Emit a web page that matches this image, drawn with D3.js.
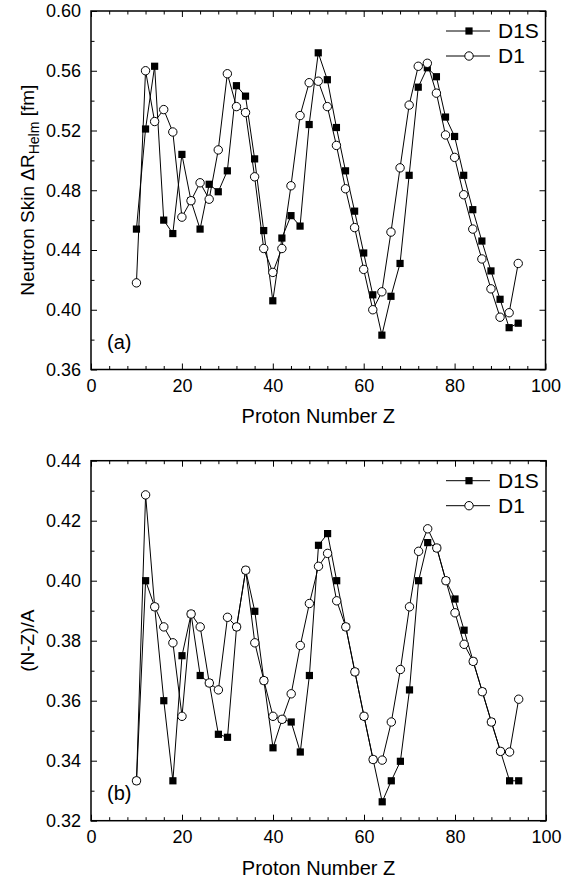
<!DOCTYPE html>
<html>
<head>
<meta charset="utf-8">
<script src="https://cdn.jsdelivr.net/npm/d3@7"></script>
<style>
  html, body { margin: 0; padding: 0; background: #fff; }
  svg { display: block; }
  text { font-family: "Liberation Sans", Arial, Helvetica, sans-serif; fill: #000; }
</style>
</head>
<body>
<svg id="chart" width="572" height="882"></svg>
<script>
// ---------------- data ----------------
const protonZ = [10,12,14,16,18,20,22,24,26,28,30,32,34,36,38,40,42,44,46,48,50,52,54,56,58,60,62,64,66,68,70,72,74,76,78,80,82,84,86,88,90,92,94];

const skinD1S = [0.454,0.521,0.563,0.460,0.451,0.504,0.473,0.454,0.484,0.479,0.493,0.550,0.543,0.501,0.453,0.406,0.448,0.463,0.456,0.524,0.572,0.554,0.522,0.493,0.466,0.438,0.410,0.383,0.409,0.431,0.490,0.549,0.562,0.556,0.529,0.516,0.490,0.467,0.446,0.426,0.407,0.388,0.391];
const skinD1  = [0.418,0.560,0.526,0.534,0.519,0.462,0.473,0.485,0.474,0.507,0.558,0.536,0.532,0.489,0.441,0.425,0.441,0.483,0.530,0.552,0.553,0.536,0.510,0.481,0.455,0.427,0.400,0.412,0.452,0.495,0.537,0.563,0.565,0.545,0.517,0.502,0.477,0.454,0.434,0.414,0.395,0.398,0.431];

const asymD1S = [0.3333,0.4000,0.3913,0.3600,0.3333,0.3750,0.3889,0.3684,0.3659,0.3488,0.3478,0.3846,0.4035,0.3898,0.3667,0.3443,0.3538,0.3529,0.3429,0.3684,0.4118,0.4157,0.4000,0.3846,0.3696,0.3548,0.3404,0.3263,0.3333,0.3398,0.3636,0.4000,0.4127,0.4109,0.4000,0.3939,0.3835,0.3731,0.3630,0.3529,0.3431,0.3333,0.3333];
const asymD1  = [0.3333,0.4286,0.3913,0.3846,0.3793,0.3548,0.3889,0.3846,0.3659,0.3636,0.3878,0.3846,0.4035,0.3793,0.3667,0.3548,0.3538,0.3623,0.3784,0.3924,0.4048,0.4091,0.3933,0.3846,0.3696,0.3548,0.3404,0.3402,0.3529,0.3704,0.3913,0.4098,0.4173,0.4109,0.4000,0.3893,0.3788,0.3731,0.3630,0.3529,0.3431,0.3429,0.3605];

const seriesNames = ["D1S", "D1"];
const xTicks = [0,20,40,60,80,100];
const xMinorTicks = [4,8,12,16,24,28,32,36,44,48,52,56,64,68,72,76,84,88,92,96];
const topYTicks = [0.36,0.40,0.44,0.48,0.52,0.56,0.60];
const topYMinor = [0.38,0.42,0.46,0.50,0.54,0.58];
const botYTicks = [0.32,0.34,0.36,0.38,0.40,0.42,0.44];
const botYMinor = [0.33,0.35,0.37,0.39,0.41,0.43];

// ---------------- drawing ----------------
const svg = d3.select("#chart");
const fmt2 = d3.format(".2f");

function panel(cfg) {
  const x = d3.scaleLinear().domain([0, 100]).range([cfg.left, cfg.right]);
  const y = d3.scaleLinear().domain(cfg.yDomain).range([cfg.bottom, cfg.top]);
  const g = svg.append("g");

  const MAJ = 6, MIN = 3.5;
  // bottom axis
  g.append("g").attr("transform", `translate(0,${cfg.bottom})`)
    .call(d3.axisBottom(x).tickValues(xTicks).tickFormat(d3.format("d")).tickSize(-MAJ).tickPadding(10))
    .call(a => a.selectAll("text").style("font-size", "18px"));
  g.append("g").attr("transform", `translate(0,${cfg.bottom})`)
    .call(d3.axisBottom(x).tickValues(xMinorTicks).tickFormat("").tickSize(-MIN));
  // top axis (mirror)
  g.append("g").attr("transform", `translate(0,${cfg.top})`)
    .call(d3.axisTop(x).tickValues(xTicks).tickFormat("").tickSize(-MAJ));
  g.append("g").attr("transform", `translate(0,${cfg.top})`)
    .call(d3.axisTop(x).tickValues(xMinorTicks).tickFormat("").tickSize(-MIN));
  // left axis
  g.append("g").attr("transform", `translate(${cfg.left},0)`)
    .call(d3.axisLeft(y).tickValues(cfg.yTicks).tickFormat(fmt2).tickSize(-MAJ).tickPadding(10))
    .call(a => a.selectAll("text").style("font-size", "18px"));
  g.append("g").attr("transform", `translate(${cfg.left},0)`)
    .call(d3.axisLeft(y).tickValues(cfg.yMinor).tickFormat("").tickSize(-MIN));
  // right axis (mirror)
  g.append("g").attr("transform", `translate(${cfg.right},0)`)
    .call(d3.axisRight(y).tickValues(cfg.yTicks).tickFormat("").tickSize(-MAJ));
  g.append("g").attr("transform", `translate(${cfg.right},0)`)
    .call(d3.axisRight(y).tickValues(cfg.yMinor).tickFormat("").tickSize(-MIN));

  g.selectAll(".domain").remove();
  g.selectAll(".tick line").attr("stroke", "#000").attr("stroke-width", 1);
  g.selectAll(".tick text").attr("fill", "#000").style("font-family", "'Liberation Sans', Arial, sans-serif");

  // frame
  g.append("rect")
    .attr("x", cfg.left).attr("y", cfg.top)
    .attr("width", cfg.right - cfg.left).attr("height", cfg.bottom - cfg.top)
    .attr("fill", "none").attr("stroke", "#000").attr("stroke-width", 1.5);

  const line = d3.line().x((d, i) => x(protonZ[i])).y(d => y(d));

  // D1S: line + filled squares
  g.append("path").datum(cfg.s1).attr("d", line)
    .attr("fill", "none").attr("stroke", "#000").attr("stroke-width", 1);
  g.selectAll(".sq").data(cfg.s1).enter().append("rect")
    .attr("x", (d, i) => x(protonZ[i]) - 3.6).attr("y", d => y(d) - 3.6)
    .attr("width", 7.2).attr("height", 7.2).attr("fill", "#000");

  // D1: line + open circles
  g.append("path").datum(cfg.s2).attr("d", line)
    .attr("fill", "none").attr("stroke", "#000").attr("stroke-width", 1);
  g.selectAll(".ci").data(cfg.s2).enter().append("circle")
    .attr("cx", (d, i) => x(protonZ[i])).attr("cy", d => y(d))
    .attr("r", 4.2).attr("fill", "#fff").attr("stroke", "#000").attr("stroke-width", 1);

  // legend
  const lx0 = 446, lx1 = 490, lm = 469;
  [0, 1].forEach(k => {
    const ly = cfg.top + 20 + k * 25;
    g.append("line").attr("x1", lx0).attr("x2", lx1).attr("y1", ly).attr("y2", ly)
      .attr("stroke", "#000").attr("stroke-width", 1);
    if (k === 0) {
      g.append("rect").attr("x", lm - 3.6).attr("y", ly - 3.6).attr("width", 7.2).attr("height", 7.2).attr("fill", "#000");
    } else {
      g.append("circle").attr("cx", lm).attr("cy", ly).attr("r", 4.2)
        .attr("fill", "#fff").attr("stroke", "#000");
    }
    g.append("text").attr("x", 498).attr("y", ly + 7).style("font-size", "21px").text(seriesNames[k]);
  });

  // panel label
  g.append("text").attr("x", cfg.left + 16).attr("y", cfg.bottom - 21)
    .style("font-size", "20px").text(cfg.tag);

  // x title
  g.append("text").attr("x", (cfg.left + cfg.right) / 2).attr("y", cfg.bottom + cfg.titleGap)
    .attr("text-anchor", "middle").style("font-size", "20px").text("Proton Number Z");

  // y title
  const yt = g.append("text")
    .attr("transform", `translate(34,${(cfg.top + cfg.bottom) / 2}) rotate(-90)`)
    .attr("text-anchor", "middle").style("font-size", "19px");
  cfg.yTitle(yt);
}

panel({
  left: 91, right: 545.5, top: 11, bottom: 369.5, titleGap: 53,
  yDomain: [0.36, 0.60], yTicks: topYTicks, yMinor: topYMinor,
  s1: skinD1S, s2: skinD1, tag: "(a)",
  yTitle: t => {
    t.append("tspan").text("Neutron Skin \u0394R");
    t.append("tspan").attr("dy", 5).style("font-size", "14px").text("Helm");
    t.append("tspan").attr("dy", -5).text(" [fm]");
  }
});

panel({
  left: 91, right: 546, top: 460.7, bottom: 820.7, titleGap: 54,
  yDomain: [0.32, 0.44], yTicks: botYTicks, yMinor: botYMinor,
  s1: asymD1S, s2: asymD1, tag: "(b)",
  yTitle: t => { t.text("(N-Z)/A"); }
});
</script>
</body>
</html>
